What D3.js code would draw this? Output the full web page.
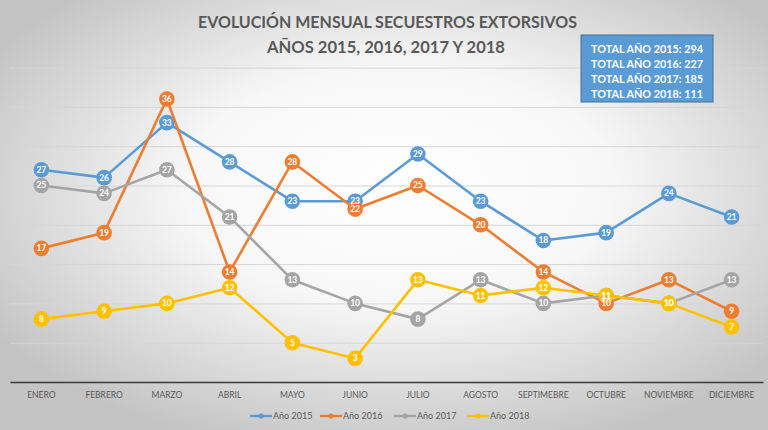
<!DOCTYPE html>
<html><head><meta charset="utf-8">
<script src="https://cdn.jsdelivr.net/npm/d3@7"></script>
<style>html,body{margin:0;padding:0;overflow:hidden;background:#fff}</style>
</head><body><svg id="c" width="768" height="430"></svg>
<script>
const months = ["ENERO","FEBRERO","MARZO","ABRIL","MAYO","JUNIO","JULIO","AGOSTO","SEPTIMEBRE","OCTUBRE","NOVIEMBRE","DICIEMBRE"];
const seriesNames = ["Año 2015","Año 2016","Año 2017","Año 2018"];
const v2015 = [27,26,33,28,23,23,29,23,18,19,24,21];
const v2016 = [17,19,36,14,28,22,25,20,14,10,13,9];
const v2017 = [25,24,27,21,13,10,8,13,10,11,10,13];
const v2018 = [8,9,10,12,5,3,13,11,12,11,10,7];
const yTicks = [0,5,10,15,20,25,30,35,40];
const totals = ["TOTAL AÑO 2015: 294","TOTAL AÑO 2016: 227","TOTAL AÑO 2017: 185","TOTAL AÑO 2018: 111"];
const titleLines = ["EVOLUCIÓN MENSUAL SECUESTROS EXTORSIVOS","AÑOS 2015, 2016, 2017 Y 2018"];
const colors = ["#5B9BD5","#ED7D31","#A5A5A5","#FFC000"];

const series = [v2015,v2016,v2017,v2018].map((vals,i)=>({name:seriesNames[i],color:colors[i],values:vals}));

const svg = d3.select("#c");
const defs = svg.append("defs");
const grad = defs.append("radialGradient").attr("id","bg")
  .attr("cx","52%").attr("cy","45%").attr("r","62%").attr("fx","52%").attr("fy","42%");
grad.append("stop").attr("offset","0%").attr("stop-color","#ffffff");
grad.append("stop").attr("offset","45%").attr("stop-color","#f7f7f7");
grad.append("stop").attr("offset","100%").attr("stop-color","#c4c4c4");
svg.append("rect").attr("width",768).attr("height",430).attr("fill","url(#bg)");

const x = d3.scaleBand().domain(months).range([10,763]).padding(0);
const y = d3.scaleLinear().domain([0,40]).range([382,67.6]);
const cx = m => x(m) + x.bandwidth()/2;

// gridlines
const yAxis = d3.axisLeft(y).tickValues(yTicks.filter(t=>t>0)).tickSize(-(763-10)).tickFormat("");
const gy = svg.append("g").attr("transform","translate(10,0)").call(yAxis);
gy.select(".domain").remove();
gy.selectAll(".tick line").attr("stroke","#d6d6d6").attr("stroke-width",1);

// x axis
const xAxis = d3.axisBottom(x).tickSize(0).tickPadding(8);
const gx = svg.append("g").attr("transform","translate(0,382)").call(xAxis);
gx.select(".domain").attr("stroke","#3a3a3a").attr("stroke-width",1.6);
gx.selectAll(".tick text").attr("fill","#595959").attr("font-family","Lato, 'Open Sans', sans-serif")
  .attr("font-size","8.5px").attr("dy","0.9em");

// lines + markers
const line = d3.line().x((d,i)=>cx(months[i])).y(d=>y(d));
series.forEach(s=>{
  const g = svg.append("g");
  g.append("path").attr("d",line(s.values)).attr("fill","none").attr("stroke",s.color)
    .attr("stroke-width",2.6).attr("stroke-linejoin","round");
  g.selectAll("circle").data(s.values).join("circle")
    .attr("cx",(d,i)=>cx(months[i])).attr("cy",d=>y(d)).attr("r",7.8).attr("fill",s.color);
});
// labels
series.forEach(s=>{
  svg.append("g").selectAll("text").data(s.values).join("text")
    .attr("x",(d,i)=>cx(months[i])).attr("y",d=>y(d)).attr("dy","0.35em")
    .attr("text-anchor","middle").attr("fill","#ffffff").attr("font-weight","bold")
    .attr("font-family","Lato, 'Open Sans', sans-serif").attr("font-size","8.5px").text(d=>d);
});

// title
const tl = [{t:titleLines[0],x:198,w:379,y:28},{t:titleLines[1],x:267,w:238,y:53}];
svg.append("g").selectAll("text").data(tl).join("text")
  .attr("x",d=>d.x).attr("y",d=>d.y).attr("textLength",d=>d.w).attr("lengthAdjust","spacingAndGlyphs")
  .attr("fill","#595959").attr("font-weight","bold").attr("font-family","Lato, 'Open Sans', sans-serif")
  .attr("font-size","17.5px").text(d=>d.t);

// totals box
svg.append("rect").attr("x",581).attr("y",35).attr("width",132).attr("height",67)
  .attr("fill","#5B9BD5").attr("stroke","#41719C").attr("stroke-width",1);
svg.append("g").selectAll("text").data(totals).join("text")
  .attr("x",591).attr("y",(d,i)=>49+i*15.2).attr("dy","0.35em").attr("textLength",112).attr("lengthAdjust","spacingAndGlyphs")
  .attr("fill","#ffffff").attr("font-weight","bold").attr("font-family","Lato, 'Open Sans', sans-serif")
  .attr("font-size","11px").text(d=>d);

// legend
const legX = [250,320,394,467];
const lg = svg.append("g").attr("transform","translate(0,416)");
series.forEach((s,i)=>{
  const g = lg.append("g").attr("transform",`translate(${legX[i]},0)`);
  g.append("line").attr("x1",0).attr("x2",22).attr("y1",0).attr("y2",0).attr("stroke",s.color).attr("stroke-width",2.4);
  g.append("circle").attr("cx",11).attr("cy",0).attr("r",2.6).attr("fill",s.color);
  g.append("text").attr("x",23).attr("y",0).attr("dy","0.35em").attr("fill","#595959")
    .attr("font-family","Lato, 'Open Sans', sans-serif").attr("font-size","9px").text(s.name);
});
</script></body></html>
